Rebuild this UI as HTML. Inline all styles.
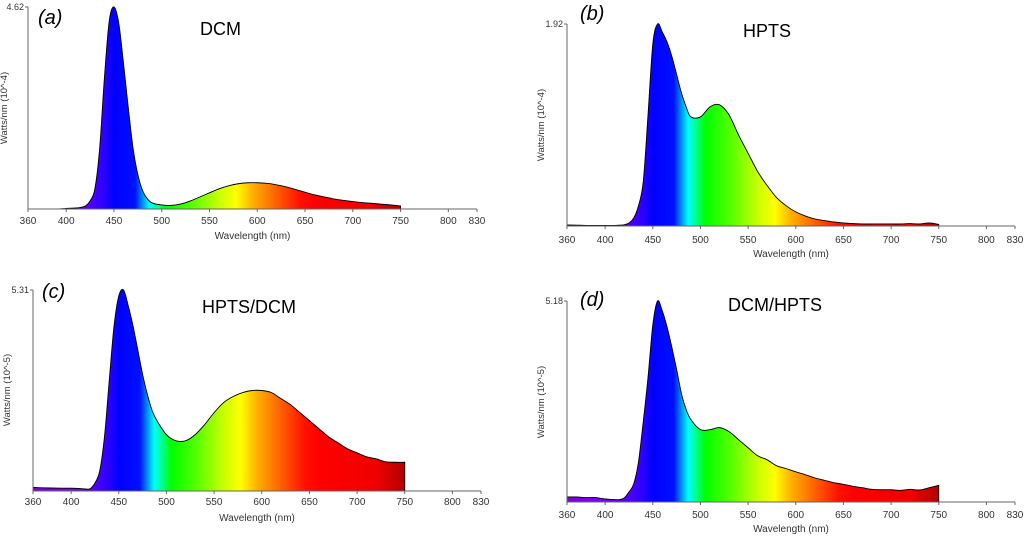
<!DOCTYPE html>
<html><head><meta charset="utf-8"><style>
body{margin:0;background:#fff;}
svg{display:block;font-family:"Liberation Sans",sans-serif;}
</style></head><body>
<svg id="fig" width="1024" height="537" viewBox="0 0 1024 537" xmlns="http://www.w3.org/2000/svg"><defs id="defs"></defs></svg>
<script>
const wavelengths=[360,370,380,390,400,410,415,420,425,430,435,440,445,450,455,460,465,470,475,480,485,490,500,510,520,530,540,550,560,570,580,590,600,610,620,630,640,650,660,670,680,690,700,710,720,730,740,750];
const dcmValues=[0,0,0,0,0.003,0.005,0.008,0.015,0.04,0.1,0.3,0.65,0.93,1.0,0.92,0.72,0.5,0.3,0.17,0.09,0.05,0.03,0.02,0.018,0.025,0.04,0.06,0.08,0.10,0.115,0.125,0.13,0.13,0.127,0.12,0.11,0.097,0.083,0.07,0.06,0.05,0.043,0.037,0.032,0.028,0.024,0.02,0.015];
const hptsValues=[0.005,0.004,0.003,0.003,0.003,0.003,0.004,0.006,0.015,0.04,0.1,0.22,0.55,0.9,1.0,0.96,0.91,0.84,0.75,0.66,0.59,0.54,0.54,0.59,0.6,0.55,0.45,0.36,0.27,0.2,0.14,0.1,0.07,0.05,0.035,0.027,0.02,0.015,0.012,0.01,0.01,0.01,0.01,0.01,0.012,0.01,0.015,0.008];
const hptsDcmValues=[0.018,0.016,0.015,0.014,0.014,0.012,0.01,0.012,0.04,0.1,0.27,0.55,0.82,0.97,1.0,0.92,0.82,0.7,0.58,0.48,0.4,0.35,0.28,0.25,0.25,0.28,0.33,0.39,0.44,0.47,0.49,0.5,0.5,0.49,0.46,0.43,0.39,0.35,0.31,0.27,0.24,0.21,0.19,0.17,0.16,0.145,0.143,0.143];
const dcmHptsValues=[0.025,0.025,0.022,0.022,0.015,0.012,0.012,0.02,0.05,0.09,0.2,0.4,0.62,0.88,1.0,0.95,0.87,0.77,0.66,0.54,0.46,0.41,0.36,0.36,0.37,0.35,0.31,0.27,0.23,0.21,0.18,0.166,0.15,0.136,0.12,0.108,0.096,0.088,0.078,0.071,0.063,0.061,0.061,0.058,0.063,0.06,0.071,0.083];
const xTickLabels=[360,400,450,500,550,600,650,700,750,800,830];
const yMaxLabels=["4.62","1.92","5.31","5.18"];
const yTitles=["Watts/nm (10^-4)","Watts/nm (10^-4)","Watts/nm (10^-5)","Watts/nm (10^-5)"];
const panelTitles=["DCM","HPTS","HPTS/DCM","DCM/HPTS"];
const panelLetters=["(a)","(b)","(c)","(d)"];

const NS="http://www.w3.org/2000/svg";
const svg=document.getElementById('fig');
const defs=document.getElementById('defs');
const specStops=[[360,'#7a00d8'],[400,'#8000ff'],[425,'#5000ff'],[440,'#2a00ff'],[450,'#0000ff'],[472,'#0010ff'],[480,'#0090ff'],[487,'#00ffff'],[495,'#00ff90'],[505,'#00ff00'],[530,'#50ff00'],[560,'#c8ff00'],[578,'#ffff00'],[595,'#ffb000'],[620,'#ff6000'],[645,'#ff1000'],[660,'#ff0000'],[720,'#f00000'],[750,'#b00000']];
function el(tag,attrs,parent){const e=document.createElementNS(NS,tag);for(const k in attrs)e.setAttribute(k,attrs[k]);(parent||svg).appendChild(e);return e;}
const geos=[
 {x0:28,x1:477,base:209,top:7,letter:[38,24],title:[200,35],yt:[7,108],tickY:224,labY:239},
 {x0:567,x1:1015,base:226,top:24,letter:[580,20],title:[743,37],yt:[544,125],tickY:243,labY:257},
 {x0:33,x1:481,base:491,top:290,letter:[42,298],title:[202,313],yt:[10,390],tickY:505,labY:521},
 {x0:567,x1:1015,base:502,top:301,letter:[580,306],title:[728,311],yt:[544,402],tickY:518,labY:532}
];
const series=[dcmValues,hptsValues,hptsDcmValues,dcmHptsValues];
geos.forEach((g,i)=>{
 const xs=w=>g.x0+(w-360)*(g.x1-g.x0)/470;
 const ys=v=>g.base-v*(g.base-g.top);
 const grad=el('linearGradient',{id:'spec'+i,gradientUnits:'userSpaceOnUse',x1:xs(360),x2:xs(750),y1:0,y2:0},defs);
 specStops.forEach(s=>el('stop',{offset:((s[0]-360)/390).toFixed(4),'stop-color':s[1]},grad));
 const grp=el('g',{});
 
 
 const vals=series[i];
 const pts=wavelengths.map((w,k)=>[xs(w),ys(vals[k])]);
 let d='M'+pts[0][0]+','+pts[0][1];
 for(let k=0;k<pts.length-1;k++){
  const p0=pts[Math.max(0,k-1)],p1=pts[k],p2=pts[k+1],p3=pts[Math.min(pts.length-1,k+2)];
  const c1=[p1[0]+(p2[0]-p0[0])/6,p1[1]+(p2[1]-p0[1])/6],c2=[p2[0]-(p3[0]-p1[0])/6,p2[1]-(p3[1]-p1[1])/6];
  d+=`C${c1[0].toFixed(2)},${Math.min(g.base,c1[1]).toFixed(2)} ${c2[0].toFixed(2)},${Math.min(g.base,c2[1]).toFixed(2)} ${p2[0].toFixed(2)},${p2[1].toFixed(2)}`;
 }
 const area=el('path',{d:d+`L${xs(750)},${g.base}L${xs(360)},${g.base}Z`,fill:`url(#spec${i})`,stroke:'#000','stroke-width':0.9},grp);
 
 
 const xa=el('line',{x1:g.x0,x2:g.x1,y1:g.base,y2:g.base,stroke:'#666','stroke-width':1},grp);
 
 
 const ya=el('line',{x1:g.x0,x2:g.x0,y1:g.top,y2:g.base,stroke:'#666','stroke-width':1},grp);
 
 
 el('line',{x1:g.x0-3,x2:g.x0,y1:g.top,y2:g.top,stroke:'#666'},grp);
 xTickLabels.forEach(t=>{
  el('line',{x1:xs(t),x2:xs(t),y1:g.base,y2:g.base+3,stroke:'#666'},grp);
  const tl=el('text',{x:xs(t),y:g.tickY,'text-anchor':'middle','font-size':10,fill:'#333'},grp);
  tl.textContent=t;
  
  
 });
 const ym=el('text',{x:g.x0-4,y:g.top+3,'text-anchor':'end','font-size':9,fill:'#333'},grp);
 ym.textContent=yMaxLabels[i];
 
 
 const xt=el('text',{x:(xs(360)+xs(830))/2,y:g.labY,'text-anchor':'middle','font-size':10,fill:'#333'},grp);
 xt.textContent='Wavelength (nm)';
 
 
 const yt=el('text',{x:0,y:0,transform:`translate(${g.yt[0]},${g.yt[1]}) rotate(-90)`,'text-anchor':'middle','font-size':9.5,fill:'#333'},grp);
 yt.textContent=yTitles[i];
 
 
 const lt=el('text',{x:g.letter[0],y:g.letter[1],'font-size':20,'font-style':'italic',fill:'#000'},grp);
 lt.textContent=panelLetters[i];
 
 
 const tt=el('text',{x:g.title[0],y:g.title[1],'font-size':18,fill:'#000'},grp);
 tt.textContent=panelTitles[i];
 
 
});
</script>
</body></html>
